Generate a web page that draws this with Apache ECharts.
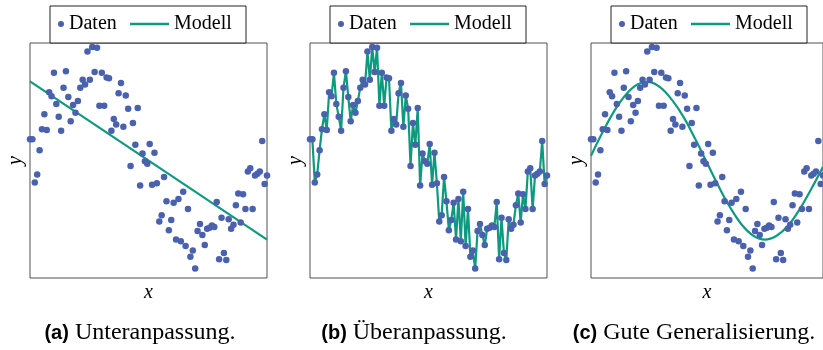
<!DOCTYPE html>
<html><head><meta charset="utf-8">
<script src="https://cdn.jsdelivr.net/npm/echarts@6/dist/echarts.min.js"></script>
<style>html,body{margin:0;padding:0;background:#fff}#c{width:823px;height:350px}</style>
</head><body><div id="c"></div>
<script>
// Observed data (same in all three panels), evenly sampled in x from 0 to 1
const dataY = [0.27, 0.27, -0.28, -0.18, 0.13, 0.40, 0.59, 0.39, 0.87, 0.82,
  1.12, 0.72, 0.56, 0.38, 0.93, 1.14, 0.81, 0.50, 0.71, 0.61,
  0.76, 0.93, 1.03, 0.97, 1.39, 1.03, 1.45, 1.13, 1.44, 0.70,
  1.12, 0.70, 1.06, 1.05, 0.38, 0.53, 0.46, 0.86, 0.99, 0.43,
  0.83, 0.66, -0.07, 0.48, 0.20, 0.67, -0.32, 0.09, -0.01, -0.04,
  0.21, -0.31, 0.10, -0.29, -0.78, -0.70, -0.21, -0.52, -0.89, -0.76,
  -0.54, -1.01, -0.49, -1.03, -0.40, -1.09, -0.62, -1.23, -1.15, -1.38,
  -0.90, -0.81, -0.95, -1.08, -0.87, -0.86, -0.83, -0.85, -0.53, -1.26,
  -0.73, -1.18, -1.27, -0.75, -0.87, -0.82, -0.57, -0.42, -0.79, -0.43,
  -0.62, -0.14, -0.10, -0.62, -0.19, -0.17, -0.14, 0.25, -0.30, -0.19];
const dataX = dataY.map((_, i) => i / 99);

// Model (a): linear fit
const underfitX = [0, 1];
const underfitY = [1.01, -1.01];

// Model (c): smooth curve
const goodX = [0, 0.05, 0.1, 0.15, 0.2, 0.25, 0.3, 0.35, 0.4, 0.45, 0.5, 0.55, 0.6, 0.65, 0.7, 0.75, 0.8, 0.85, 0.9, 0.95, 1.0];
const goodY = [0.06, 0.36, 0.63, 0.84, 0.97, 1.00, 0.93, 0.77, 0.55, 0.27, -0.03, -0.33, -0.60, -0.82, -0.96, -1.01, -0.96, -0.83, -0.62, -0.36, -0.08];

const captionTags = ['(a)', '(b)', '(c)'];
const captionTexts = ['Unteranpassung.', 'Überanpassung.', 'Gute Generalisierung.'];
const legendNames = ['Daten', 'Modell'];
const axisNames = ['x', 'y'];

const BLUE = '#4a61ad', GREEN = '#0f9a7f';
const SERIF = '"Liberation Serif", "DejaVu Serif", serif';
const panelLeft = [30, 310, 591];
const PW = 237, PT = 43, PH = 235;
const captionCenter = [140, 414, 694];

const zip = (xs, ys) => xs.map((x, i) => [x, ys[i]]);
const points = zip(dataX, dataY);
const modelData = [zip(underfitX, underfitY), points, zip(goodX, goodY)];

const grids = [], xAxes = [], yAxes = [], series = [], legends = [], graphics = [];
for (let i = 0; i < 3; i++) {
  grids.push({ left: panelLeft[i], top: PT, width: PW, height: PH, show: true,
    borderColor: '#505050', borderWidth: 1, backgroundColor: 'rgba(0,0,0,0)' });
  const nameStyle = { fontFamily: SERIF, fontStyle: 'italic', fontSize: 20, color: '#000' };
  xAxes.push({ gridIndex: i, type: 'value', min: 0, max: 1, name: axisNames[0], nameLocation: 'middle',
    nameGap: 5, nameTextStyle: nameStyle,
    axisLine: { show: false }, axisTick: { show: false }, axisLabel: { show: false }, splitLine: { show: false } });
  yAxes.push({ gridIndex: i, type: 'value', min: -1.5, max: 1.5, name: axisNames[1], nameLocation: 'middle',
    nameGap: 4, nameTextStyle: nameStyle,
    axisLine: { show: false }, axisTick: { show: false }, axisLabel: { show: false }, splitLine: { show: false } });
  series.push({ name: legendNames[1], type: 'line', xAxisIndex: i, yAxisIndex: i, data: modelData[i],
    smooth: i === 2 ? 0.4 : false, symbol: 'none', color: GREEN,
    lineStyle: { color: GREEN, width: i === 1 ? 2.2 : 2.2 }, z: 2, animation: false });
  series.push({ name: legendNames[0], type: 'scatter', xAxisIndex: i, yAxisIndex: i, data: points,
    symbolSize: 6.5, color: BLUE, itemStyle: { color: BLUE, opacity: 1 }, z: 3, animation: false });
  const lt = { fontFamily: SERIF, fontSize: 20, color: '#000' };
  legends.push({ left: panelLeft[i] + 28, top: 14, padding: 0, itemWidth: 6, itemHeight: 6,
    data: [{ name: legendNames[0], icon: 'circle' }], textStyle: lt, selectedMode: false });
  legends.push({ left: panelLeft[i] + 100, top: 14, padding: 0, itemWidth: 39, itemHeight: 2.5,
    data: [{ name: legendNames[1], icon: 'rect' }], textStyle: lt, selectedMode: false });
  graphics.push({ type: 'rect', shape: { x: panelLeft[i] + 20, y: 6, width: 196, height: 37 },
    style: { fill: '#fff', stroke: '#222', lineWidth: 1 }, z: 0 });
  graphics.push({ type: 'text', z: 5,
    style: { x: captionCenter[i], y: 321, textAlign: 'center',
      text: '{t|' + captionTags[i] + '}{r| ' + captionTexts[i] + '}',
      rich: { t: { fontFamily: '"Liberation Sans", Arial, sans-serif', fontWeight: 'bold', fontSize: 20, fill: '#000' },
              r: { fontFamily: SERIF, fontSize: 24, fill: '#000' } } } });
}

const chart = echarts.init(document.getElementById('c'), null, { renderer: 'canvas' });
chart.setOption({
  animation: false,
  backgroundColor: '#fff',
  grid: grids, xAxis: xAxes, yAxis: yAxes, series: series, legend: legends, graphic: graphics
});
</script></body></html>
